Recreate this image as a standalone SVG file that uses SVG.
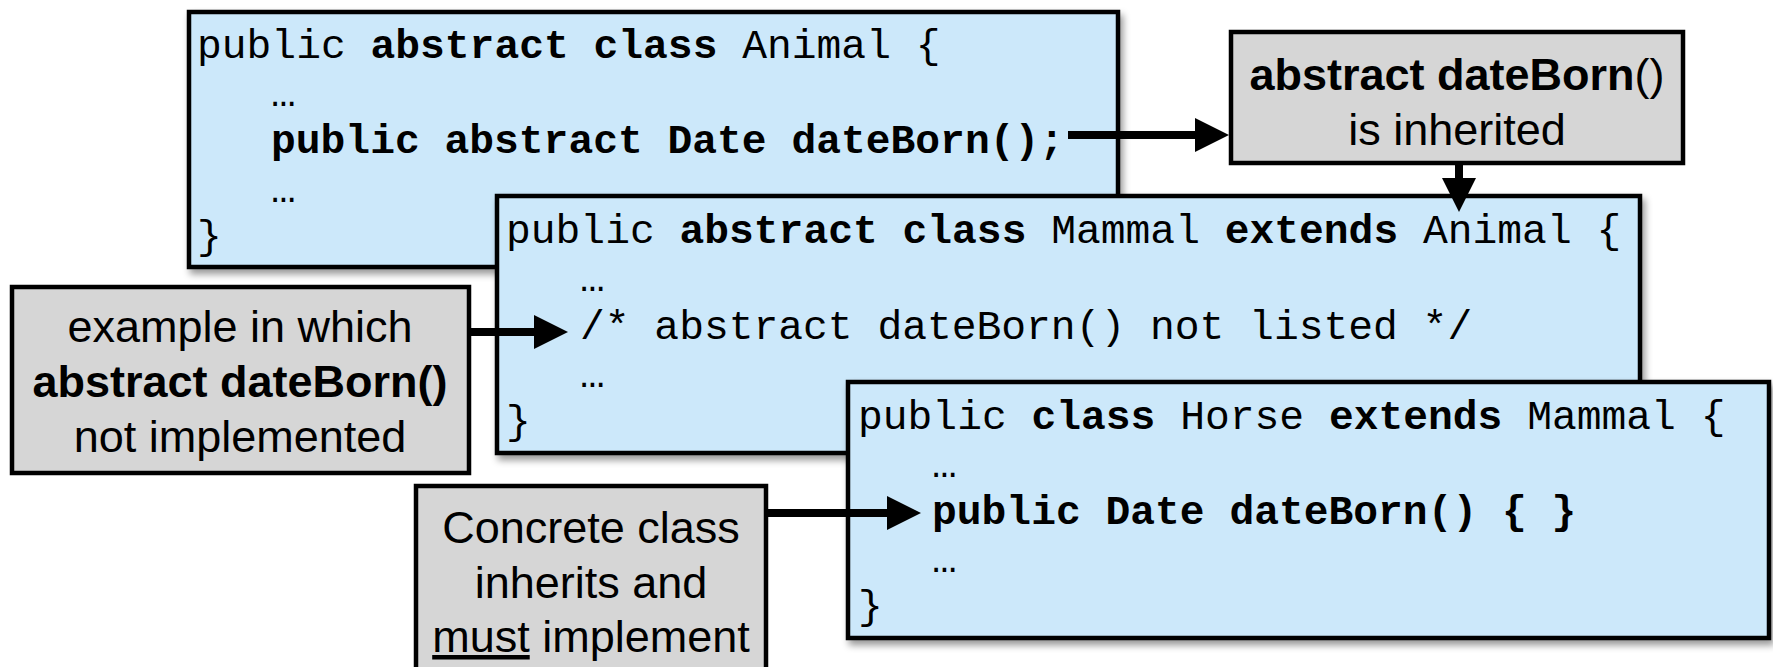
<svg xmlns="http://www.w3.org/2000/svg" width="1773" height="667" viewBox="0 0 1773 667">
  <style>
    .code { fill: #CCE8FA; stroke: #000; stroke-width: 4.5; }
    .note { fill: #D6D6D6; stroke: #000; stroke-width: 4.5; }
    .mono { font-family: "Liberation Mono", "Courier New", monospace; font-size: 41.3px; fill: #000; white-space: pre; }
    .b { font-weight: bold; }
    .sans { font-family: "Liberation Sans", Arial, Helvetica, sans-serif; font-size: 45px; fill: #000; text-anchor: middle; }
    .wire { stroke: #000; stroke-width: 8; fill: none; }
    .head { fill: #000; }
  </style>
  <defs>
    <filter id="shadow" x="-5%" y="-5%" width="112%" height="115%">
      <feDropShadow dx="3" dy="5" stdDeviation="3.5" flood-color="#000" flood-opacity="0.4"/>
    </filter>
  </defs>

  <rect width="1773" height="667" fill="#FFFFFF"/>

  <!-- Animal class -->
  <g id="animal">
    <rect class="code" x="189" y="12" width="929" height="255" filter="url(#shadow)"/>
    <text class="mono" x="197" y="58">public <tspan class="b">abstract class</tspan> Animal {</text>
    <text class="mono" x="271" y="106">…</text>
    <text class="mono b" x="271" y="153">public abstract Date dateBorn();</text>
    <text class="mono" x="271" y="202">…</text>
    <text class="mono" x="197" y="249">}</text>
  </g>

  <!-- Mammal class -->
  <g id="mammal">
    <rect class="code" x="497" y="196" width="1143" height="257" filter="url(#shadow)"/>
    <text class="mono" x="506" y="243">public <tspan class="b">abstract class</tspan> Mammal <tspan class="b">extends</tspan> Animal {</text>
    <text class="mono" x="580" y="291">…</text>
    <text class="mono" x="580" y="339">/* abstract dateBorn() not listed */</text>
    <text class="mono" x="580" y="387">…</text>
    <text class="mono" x="506" y="434">}</text>
  </g>

  <!-- Horse class -->
  <g id="horse">
    <rect class="code" x="848" y="382" width="921" height="256" filter="url(#shadow)"/>
    <text class="mono" x="858" y="429">public <tspan class="b">class</tspan> Horse <tspan class="b">extends</tspan> Mammal {</text>
    <text class="mono" x="932" y="477">…</text>
    <text class="mono b" x="932" y="524">public Date dateBorn() { }</text>
    <text class="mono" x="932" y="572">…</text>
    <text class="mono" x="858" y="619">}</text>
  </g>

  <!-- Note: inherited -->
  <g id="note-inherited">
    <rect class="note" x="1231" y="32" width="452" height="131"/>
    <text class="sans" x="1457" y="90"><tspan font-weight="bold">abstract dateBorn</tspan>()</text>
    <text class="sans" x="1457" y="145">is inherited</text>
  </g>

  <!-- Note: not implemented -->
  <g id="note-not-implemented">
    <rect class="note" x="12" y="287" width="457" height="186"/>
    <text class="sans" x="240" y="342">example in which</text>
    <text class="sans" x="240" y="397" font-weight="bold">abstract dateBorn()</text>
    <text class="sans" x="240" y="452">not implemented</text>
  </g>

  <!-- Note: must implement -->
  <g id="note-must-implement">
    <rect class="note" x="416" y="486" width="350" height="200"/>
    <text class="sans" x="591" y="543">Concrete class</text>
    <text class="sans" x="591" y="598">inherits and</text>
    <text class="sans" x="591" y="652"><tspan text-decoration="underline">must</tspan> implement</text>
  </g>

  <!-- Connectors -->
  <g id="connectors">
    <line class="wire" x1="1068" y1="135" x2="1198" y2="135"/>
    <polygon class="head" points="1195,118 1229,135 1195,152"/>

    <line class="wire" x1="1459" y1="163" x2="1459" y2="181"/>
    <polygon class="head" points="1442,178 1476,178 1459,212"/>

    <line class="wire" x1="469" y1="332" x2="537" y2="332"/>
    <polygon class="head" points="534,315 568,332 534,349"/>

    <line class="wire" x1="766" y1="513" x2="890" y2="513"/>
    <polygon class="head" points="887,496 921,513 887,530"/>
  </g>
</svg>
